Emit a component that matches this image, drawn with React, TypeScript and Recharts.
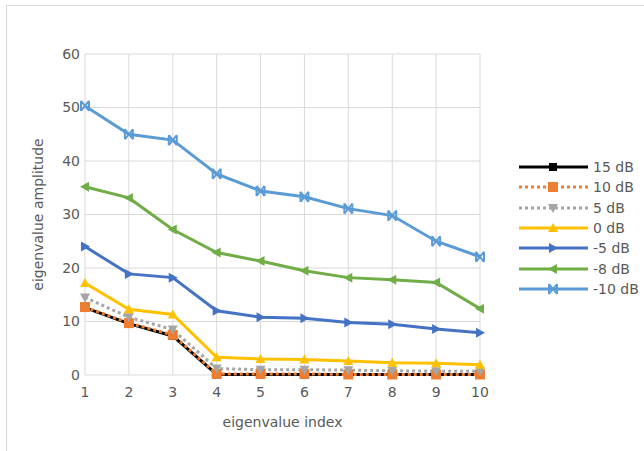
import React from 'react'
import { LineChart, Line, XAxis, YAxis, CartesianGrid } from 'recharts'

const indices = [1, 2, 3, 4, 5, 6, 7, 8, 9, 10]
const db15 = [12.6, 9.6, 7.3, 0.1, 0.1, 0.1, 0.1, 0.1, 0.1, 0.1]
const db10 = [12.7, 9.7, 7.5, 0.2, 0.2, 0.2, 0.1, 0.1, 0.1, 0.1]
const db5 = [14.5, 10.8, 8.5, 1.2, 1.0, 1.0, 0.9, 0.8, 0.7, 0.7]
const db0 = [17.2, 12.3, 11.3, 3.3, 3.0, 2.9, 2.6, 2.3, 2.2, 1.9]
const dbMinus5 = [24.0, 18.9, 18.2, 12.0, 10.8, 10.6, 9.8, 9.5, 8.6, 7.9]
const dbMinus8 = [35.2, 33.1, 27.2, 22.9, 21.3, 19.5, 18.2, 17.8, 17.3, 12.4]
const dbMinus10 = [50.3, 45.0, 43.9, 37.6, 34.4, 33.3, 31.1, 29.8, 25.0, 22.1]
const yTicks = [0, 10, 20, 30, 40, 50, 60]

type Shape = 'square' | 'bigSquare' | 'down' | 'up' | 'right' | 'left' | 'bowtie'

const SERIES: { key: string; name: string; color: string; dash?: string; shape: Shape; values: number[] }[] = [
  { key: 's15', name: '15 dB', color: '#000000', shape: 'square', values: db15 },
  { key: 's10', name: '10 dB', color: '#ED7D31', dash: '3 3', shape: 'bigSquare', values: db10 },
  { key: 's5', name: '5 dB', color: '#A5A5A5', dash: '3 3', shape: 'down', values: db5 },
  { key: 's0', name: '0 dB', color: '#FFC000', shape: 'up', values: db0 },
  { key: 'sm5', name: '-5 dB', color: '#4472C4', shape: 'right', values: dbMinus5 },
  { key: 'sm8', name: '-8 dB', color: '#70AD47', shape: 'left', values: dbMinus8 },
  { key: 'sm10', name: '-10 dB', color: '#5B9BD5', shape: 'bowtie', values: dbMinus10 },
]

const data = indices.map((idx, i) => {
  const row: Record<string, number> = { idx }
  SERIES.forEach((s) => { row[s.key] = s.values[i] })
  return row
})

const FONT = '"DejaVu Sans", sans-serif'
const TEXT = '#595959'
const FS = 14

function marker(shape: Shape, color: string, cx: number, cy: number, key?: string) {
  switch (shape) {
    case 'square':
      return <rect key={key} x={cx - 4} y={cy - 4} width={8} height={8} fill={color} />
    case 'bigSquare':
      return <rect key={key} x={cx - 5} y={cy - 5} width={10} height={10} fill={color} />
    case 'down':
      return <polygon key={key} points={`${cx - 5},${cy - 4} ${cx + 5},${cy - 4} ${cx},${cy + 5}`} fill={color} />
    case 'up':
      return <polygon key={key} points={`${cx - 5},${cy + 4} ${cx + 5},${cy + 4} ${cx},${cy - 5}`} fill={color} />
    case 'right':
      return <polygon key={key} points={`${cx - 4},${cy - 5} ${cx - 4},${cy + 5} ${cx + 5},${cy}`} fill={color} />
    case 'left':
      return <polygon key={key} points={`${cx + 4},${cy - 5} ${cx + 4},${cy + 5} ${cx - 5},${cy}`} fill={color} />
    case 'bowtie':
      return (
        <g key={key} stroke={color} strokeWidth={2} fill="none">
          <path d={`M${cx - 4},${cy - 5} L${cx + 4},${cy + 5} M${cx + 4},${cy - 5} L${cx - 4},${cy + 5}`} />
          <path d={`M${cx - 4},${cy - 5} L${cx - 4},${cy + 5} M${cx + 4},${cy - 5} L${cx + 4},${cy + 5}`} />
        </g>
      )
  }
}

function makeDot(shape: Shape, color: string) {
  return (props: any) => {
    const { cx, cy, index } = props
    if (cx == null || cy == null) return <g key={index} />
    return marker(shape, color, cx, cy, `d${index}`)
  }
}

function LegendBox() {
  return (
    <div style={{ position: 'absolute', left: 519, top: 157, fontFamily: FONT, fontSize: FS, color: TEXT }}>
      {SERIES.map((s) => (
        <div key={s.key} style={{ display: 'flex', alignItems: 'center', height: 20.3 }}>
          <svg width={70} height={14} style={{ display: 'block' }}>
            <line x1={0} y1={7} x2={69} y2={7} stroke={s.color} strokeWidth={3} strokeDasharray={s.dash} />
            {marker(s.shape, s.color, 34, 7)}
          </svg>
          <span style={{ marginLeft: 4, whiteSpace: 'nowrap' }}>{s.name}</span>
        </div>
      ))}
    </div>
  )
}

export default function App() {
  return (
    <div style={{ position: 'fixed', left: 0, top: 0, width: 644, height: 451, background: '#fff', overflow: 'hidden' }}>
      <div style={{ position: 'absolute', left: 6, top: 5, width: 700, height: 500, borderLeft: '1px solid #D9D9D9', borderTop: '1px solid #D9D9D9' }} />
      <LineChart width={644} height={451} data={data} margin={{ top: 54, right: 164, bottom: 0, left: 0 }}>
        <CartesianGrid stroke="#D9D9D9" strokeWidth={1} />
        <XAxis
          dataKey="idx"
          type="number"
          domain={[1, 10]}
          ticks={indices}
          axisLine={false}
          tickLine={false}
          tickSize={0}
          height={76}
          tick={{ fill: TEXT, fontSize: FS, fontFamily: FONT }}
          tickMargin={12}
          label={{ value: 'eigenvalue index', position: 'insideBottom', offset: 24, fill: TEXT, fontSize: FS, fontFamily: FONT }}
        />
        <YAxis
          domain={[0, 60]}
          ticks={yTicks}
          axisLine={false}
          tickLine={false}
          tickSize={0}
          width={85}
          tick={{ fill: TEXT, fontSize: FS, fontFamily: FONT }}
          tickMargin={5}
          label={{ value: 'eigenvalue amplitude', angle: -90, position: 'insideLeft', offset: 38, fill: TEXT, fontSize: FS, fontFamily: FONT, style: { textAnchor: 'middle' } }}
        />
        {SERIES.map((s) => (
          <Line
            key={s.key}
            dataKey={s.key}
            name={s.name}
            stroke={s.color}
            strokeWidth={3}
            strokeDasharray={s.dash}
            dot={makeDot(s.shape, s.color)}
            activeDot={false}
            isAnimationActive={false}
            type="linear"
          />
        ))}
      </LineChart>
      <LegendBox />
    </div>
  )
}
